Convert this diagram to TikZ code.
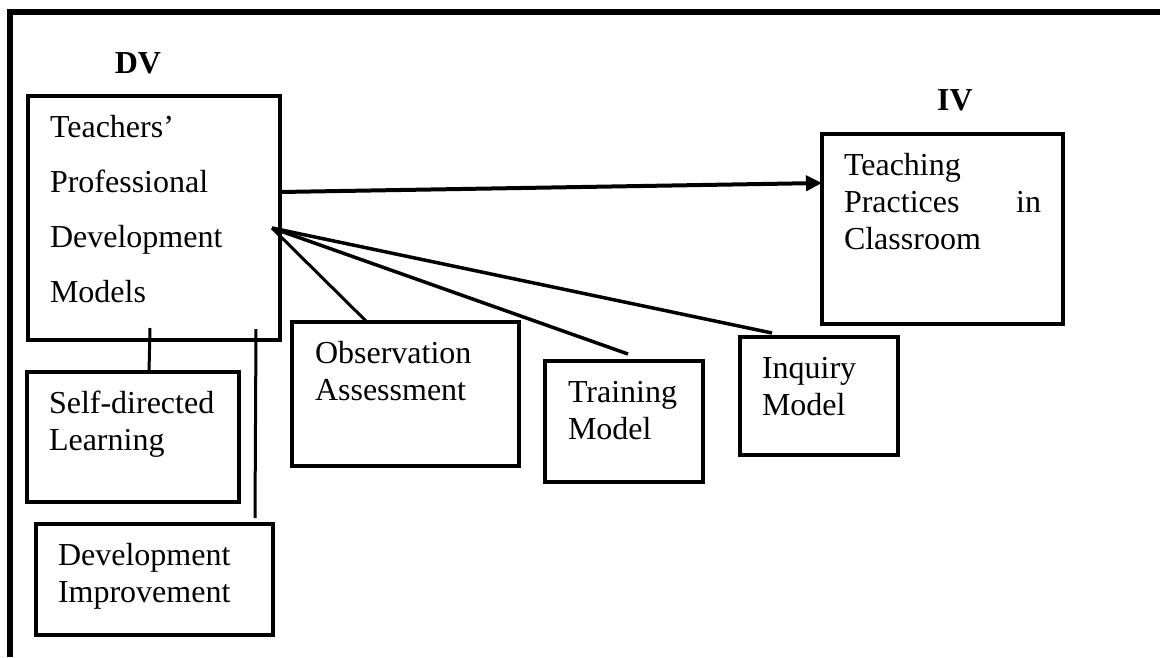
\documentclass[tikz,border=0pt]{standalone}
\usepackage{fontspec}
\setmainfont{Liberation Serif}
\usepackage{tikz}
\usetikzlibrary{positioning,arrows.meta}

\begin{document}
\begin{tikzpicture}[x=1pt,y=-1pt,
  modelbox/.style={draw, line width=4.5pt, anchor=north west, outer sep=0pt,
    inner xsep=22pt, inner ysep=0pt, text height=41pt, align=left,
    font=\fontsize{32}{37}\selectfont},
  varlabel/.style={anchor=base, font=\fontsize{32}{37}\selectfont\bfseries},
  link/.style={line width=3.5pt}]
  \useasboundingbox (0,0) rectangle (1160,657);
  \draw[line width=6pt] (1160,12) -- (10,12) -- (10,657);

  \node[varlabel] (dv) at (138,73) {DV};
  \node[varlabel] (iv) at (955,110) {IV};

  \node[modelbox, text width=208pt, text depth=203pt, font=\fontsize{32}{55}\selectfont] (tpd) at (28,96) {Teachers'\\Professional\\Development\\Models};
  \node[modelbox, text width=197pt, text depth=149pt] (tpc) at (822,134) {Teaching\\Practices\hfill in\\Classroom};
  \node[modelbox, text width=181pt, text depth=103pt, inner xsep=23pt] (obs) at (292,322) {Observation\\Assessment};
  \node[modelbox, text width=112pt, text depth=80pt, inner xsep=23pt] (trn) at (545,361) {Training\\Model};
  \node[modelbox, text width=114pt, text depth=77pt] (inq) at (740,337) {Inquiry\\Model};
  \node[modelbox, text width=168pt, text depth=89pt] (sdl) at (27,372) {Self-directed\\Learning};
  \node[modelbox, text width=193pt, text depth=70pt] (dvi) at (36,524) {Development\\Improvement};

  % main effect
  \draw[link, line width=4pt, -{Triangle[length=16pt,width=15pt]}] ([yshift=26pt]tpd.east) -- ([yshift=46pt]tpc.west);

  % models
  \coordinate (hub) at (272,228);
  \draw[link, line width=3pt] (hub) -- ([xshift=75pt]obs.north west);
  \draw[link] (hub) -- ([xshift=83pt,yshift=7pt]trn.north west);
  \draw[link] (hub) -- ([xshift=32pt,yshift=4pt]inq.north west);

  \coordinate (sdltop) at (150,328);
  \draw[link, line width=3pt] (sdltop) -- ([xshift=122pt]sdl.north west);
  \coordinate (dvitop) at (256,329);
  \draw[link, line width=3pt] (dvitop) -- ([xshift=219pt,yshift=6pt]dvi.north west);
\end{tikzpicture}
\end{document}
